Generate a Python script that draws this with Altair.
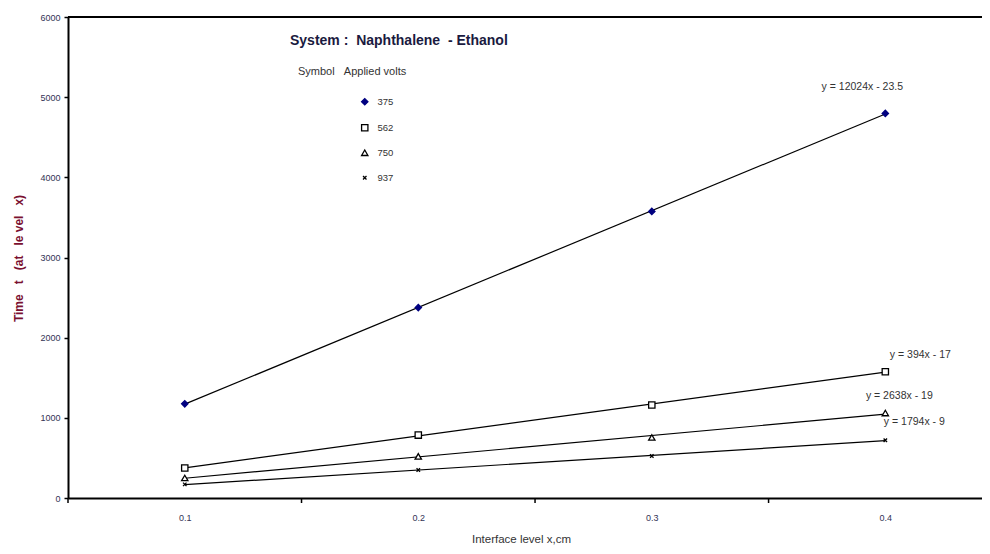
import altair as alt
import pandas as pd

# ---- data ----
x_levels = [0.1, 0.2, 0.3, 0.4]
volts = ["375", "562", "750", "937"]
t_375 = [1175, 2375, 3575, 4797]
t_562 = [374, 785, 1160, 1575]
t_750 = [250, 520, 755, 1060]
t_937 = [170, 349, 524, 720]
equations = ["y = 12024x - 23.5", "y = 394x - 17", "y = 2638x - 19", "y = 1794x - 9"]
y_ticks = [0, 1000, 2000, 3000, 4000, 5000, 6000]
x_cat_edges = [0.05, 0.15, 0.25, 0.35]

series = [t_375, t_562, t_750, t_937]
rows = []
for v, ts in zip(volts, series):
    for x, t in zip(x_levels, ts):
        rows.append({"x": x, "t": t, "volts": v})
df = pd.DataFrame(rows)

W, H = 914, 481
FONT = "Liberation Sans"
NB = "\u00a0"

xscale = alt.Scale(domain=[0.05, 0.4414], nice=False, zero=False)
yscale = alt.Scale(domain=[0, 6000], nice=False)

X = alt.X("x:Q", scale=xscale, axis=alt.Axis(
    values=x_levels, format=".1f", ticks=False, labelPadding=15,
    labelFontSize=9, labelColor="#333355", labelFont=FONT,
    domainColor="black", domainWidth=2, grid=False,
    title=f"Interface{NB}level{NB}x,cm", titleFont=FONT, titleFontSize=11.5,
    titleFontWeight="normal", titleColor="#333333",
    titleX=453, titleY=44, titleBaseline="alphabetic", titleAlign="center"))
Y = alt.Y("t:Q", scale=yscale, axis=alt.Axis(
    values=y_ticks, format="d", tickSize=4, tickColor="black", tickWidth=1.5,
    labelPadding=4, labelFontSize=9, labelColor="#333355", labelFont=FONT,
    domainColor="black", domainWidth=2, grid=False,
    title=f"Time{NB*3}t{NB*3}(at{NB*3}le{NB}vel{NB*3}x)", titleFont=FONT, titleFontSize=12,
    titleFontWeight="bold", titleColor="#7a1030", titleAngle=270,
    titleX=-50, titleY=241, titleAlign="center", titleBaseline="middle"))

xpath = "M-0.55,-0.55L0.55,0.55M-0.55,0.55L0.55,-0.55"
leg = alt.Legend(title=None, orient="none", legendX=292, legendY=80,
                 labelFontSize=9.5, labelFont=FONT, labelColor="#333333",
                 labelOffset=8, rowPadding=13, symbolStrokeWidth=1.3,
                 symbolSize=40, padding=0)

lines = alt.Chart(df).transform_regression(
    "x", "t", groupby=["volts"]
).mark_line(color="black", strokeWidth=1.2).encode(
    x=X, y=Y, detail="volts:N")

points = alt.Chart(df).mark_point(filled=False, opacity=1, size=40, strokeWidth=1.3).encode(
    x=X, y=Y,
    shape=alt.Shape("volts:N", scale=alt.Scale(domain=volts, range=["diamond", "square", "triangle-up", xpath]), legend=leg),
    fill=alt.Fill("volts:N", scale=alt.Scale(domain=volts, range=["#000080", "white", "white", "white"]), legend=leg),
    stroke=alt.Stroke("volts:N", scale=alt.Scale(domain=volts, range=["#000080", "black", "black", "black"]), legend=leg),
)

top_rule = alt.Chart(pd.DataFrame({"t": [y_ticks[-1]]})).mark_rule(
    color="black", strokeWidth=2).encode(y=Y, x=alt.value(0), x2=alt.value(W))

cat_ticks = alt.Chart(pd.DataFrame({"x": x_cat_edges})).mark_rule(
    color="black", strokeWidth=1.5).encode(x=X, y=alt.value(H), y2=alt.value(H + 5))

eq_offsets = [(-23, -26), (35, -17), (14, -17), (29, -18)]
eq_layers = []
for v, ts, eq, (dx, dy) in zip(volts, series, equations, eq_offsets):
    d = pd.DataFrame({"x": [x_levels[-1]], "t": [ts[-1]], "eq": [eq.replace(" ", NB)]})
    eq_layers.append(alt.Chart(d).mark_text(
        dx=dx, dy=dy, fontSize=10.5, font=FONT, color="#333333").encode(
        x=X, y=Y, text="eq:N"))

one = pd.DataFrame({"a": [0]})
title = alt.Chart(one).mark_text(
    text=f"System{NB}:{NB*2}Naphthalene{NB*2}-{NB}Ethanol", align="left", baseline="middle",
    fontSize=14, fontWeight="bold", font=FONT, color="#1a1a40"
).encode(x=alt.value(222), y=alt.value(24))
subtitle = alt.Chart(one).mark_text(
    text=f"Symbol{NB*3}Applied{NB}volts", align="left", baseline="middle",
    fontSize=11, font=FONT, color="#333333"
).encode(x=alt.value(230), y=alt.value(55))

chart = alt.layer(top_rule, cat_ticks, lines, points, *eq_layers, title, subtitle).properties(
    width=W, height=H,
    autosize=alt.AutoSizeParams(type="none"),
    padding={"left": 60, "top": 9, "right": 0, "bottom": 48},
).configure_view(stroke=None)

chart.save("out.html", embed_options={"renderer": "svg", "actions": False})
